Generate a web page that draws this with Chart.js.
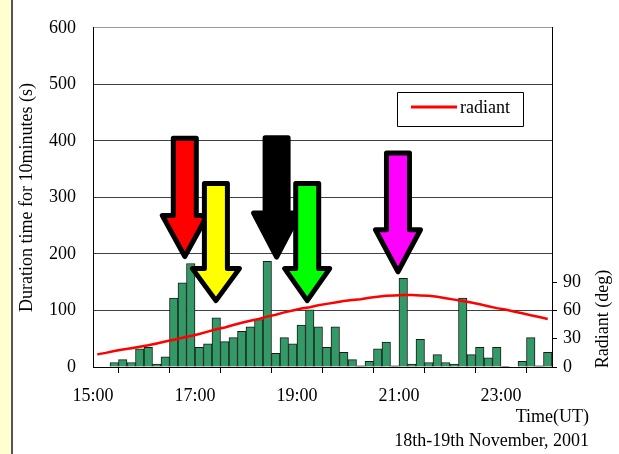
<!DOCTYPE html>
<html>
<head>
<meta charset="utf-8">
<script src="https://cdn.jsdelivr.net/npm/chart.js@4.4.1/dist/chart.umd.min.js"></script>
<style>
  html, body { margin: 0; padding: 0; }
  body {
    width: 619px; height: 454px; overflow: hidden;
    background: linear-gradient(to right, #ffffd2 0, #ffffd2 11px, #555 11px, #555 13px, #fff 13px);
  }
  #chart { display: block; }
</style>
</head>
<body>
<canvas id="chart" width="619" height="454"></canvas>
<script>
// 10-minute slots, 18th-19th November 2001 (UT)
const times = [
  '15:00', '15:10', '15:20', '15:30', '15:40', '15:50',
  '16:00', '16:10', '16:20', '16:30', '16:40', '16:50',
  '17:00', '17:10', '17:20', '17:30', '17:40', '17:50',
  '18:00', '18:10', '18:20', '18:30', '18:40', '18:50',
  '19:00', '19:10', '19:20', '19:30', '19:40', '19:50',
  '20:00', '20:10', '20:20', '20:30', '20:40', '20:50',
  '21:00', '21:10', '21:20', '21:30', '21:40', '21:50',
  '22:00', '22:10', '22:20', '22:30', '22:40', '22:50',
  '23:00', '23:10', '23:20', '23:30', '23:40', '23:50'
];

// duration time for each 10 minutes (s)
const duration = [
  0, 0, 8, 13, 8, 32,
  35, 5, 18, 122, 149, 183,
  35, 41, 87, 45, 52, 63,
  71, 84, 187, 24, 52, 41,
  74, 101, 71, 35, 71, 26,
  13, 2, 10, 32, 44, 2,
  157, 5, 49, 8, 22, 8,
  5, 122, 22, 35, 16, 35,
  1, 0, 10, 52, 2, 26
];

// radiant elevation (deg)
const radiant = [
  13.4, 15, 17, 18.5, 20, 21.5,
  23, 25, 27, 29, 31, 33,
  35, 37.5, 40, 42, 44.5, 47,
  49, 51, 53.5, 55.5, 58, 60,
  62, 63.5, 65.5, 67, 68.5, 70,
  71, 72, 73.5, 74.5, 75.5, 76,
  76.5, 76.5, 76, 75.5, 74.5, 73,
  71.5, 70, 68.5, 66.5, 64.5, 62.5,
  61, 59, 57, 55, 53, 51
];

const leftTicks = [0, 100, 200, 300, 400, 500, 600];
const rightTicks = [0, 30, 60, 90];
const hourLabels = ['15:00', '17:00', '19:00', '21:00', '23:00'];

// marker arrows: hour of the tip, tip / top on the duration axis
const arrows = [
  { color: '#ff0000', hour: 16.80, tip: 191, top: 409, head: 46, half: 25 },
  { color: '#ffff00', hour: 17.41, tip: 113, top: 329, head: 37, half: 26 },
  { color: '#000000', hour: 18.60, tip: 190, top: 410, head: 49, half: 25.5 },
  { color: '#00ff00', hour: 19.20, tip: 113, top: 329, head: 37, half: 25 },
  { color: '#ff00ff', hour: 20.98, tip: 164, top: 383, head: 47, half: 25 }
];

const FONT = '"Liberation Serif", "Times New Roman", serif';

function toHour(t) {
  const [h, m] = t.split(':').map(Number);
  return h + m / 60 + 1 / 12; // middle of the slot
}

const barData = times.map((t, i) => ({ x: toHour(t), y: duration[i] }));
const lineData = times.map((t, i) => ({ x: toHour(t), y: radiant[i] }));

const extras = {
  id: 'extras',
  afterDraw(chart) {
    const ctx = chart.ctx;
    const xs = chart.scales.x, ys = chart.scales.y;
    ctx.save();

    // arrows
    const o = 2.5, sw = 14;
    arrows.forEach(a => {
      const cx = xs.getPixelForValue(a.hour);
      const tipY = ys.getPixelForValue(a.tip);
      const topY = ys.getPixelForValue(a.top);
      const baseY = tipY - a.head;
      ctx.beginPath();
      ctx.moveTo(cx - sw + o, topY + o);
      ctx.lineTo(cx + sw - o, topY + o);
      ctx.lineTo(cx + sw - o, baseY + o);
      ctx.lineTo(cx + a.half - o, baseY + o);
      ctx.lineTo(cx, tipY - o);
      ctx.lineTo(cx - a.half + o, baseY + o);
      ctx.lineTo(cx - sw + o, baseY + o);
      ctx.closePath();
      ctx.fillStyle = a.color;
      ctx.fill();
      ctx.lineWidth = 5;
      ctx.lineJoin = 'round';
      ctx.strokeStyle = '#000';
      ctx.stroke();
    });

    // legend box
    ctx.fillStyle = '#fff';
    ctx.fillRect(397, 92, 126, 34);
    ctx.lineWidth = 1;
    ctx.strokeStyle = '#000';
    ctx.strokeRect(397.5, 92.5, 126, 34);
    ctx.beginPath();
    ctx.moveTo(411, 107);
    ctx.lineTo(457, 107);
    ctx.lineWidth = 3;
    ctx.strokeStyle = '#ff0000';
    ctx.stroke();

    ctx.fillStyle = '#000';
    ctx.font = '18px ' + FONT;
    ctx.textAlign = 'left';
    ctx.textBaseline = 'alphabetic';
    ctx.fillText('radiant', 460, 113);

    // bottom texts
    ctx.textAlign = 'right';
    ctx.fillText('Time(UT)', 589, 422);
    ctx.fillText('18th-19th November, 2001', 589, 446);

    // right axis title
    ctx.translate(603, 319);
    ctx.rotate(-Math.PI / 2);
    ctx.textAlign = 'center';
    ctx.textBaseline = 'middle';
    ctx.fillText('Radiant (deg)', 0, 0);
    ctx.restore();
  }
};

new Chart(document.getElementById('chart'), {
  type: 'bar',
  data: {
    datasets: [
      {
        type: 'line',
        label: 'radiant',
        data: lineData,
        yAxisID: 'y1',
        borderColor: '#ff0000',
        borderWidth: 2.5,
        pointRadius: 0,
        tension: 0,
        order: 0
      },
      {
        label: 'duration',
        data: barData,
        yAxisID: 'y',
        backgroundColor: '#339966',
        borderColor: '#1a1a1a',
        borderWidth: 1,
        barPercentage: 1,
        categoryPercentage: 1,
        order: 1
      }
    ]
  },
  options: {
    responsive: false,
    animation: false,
    devicePixelRatio: 1,
    layout: { padding: { top: 19, left: 0, right: 0, bottom: 0 } },
    plugins: {
      legend: { display: false },
      tooltip: { enabled: false }
    },
    scales: {
      x: {
        type: 'linear',
        min: 15,
        max: 24,
        offset: false,
        afterFit: s => { s.height = 87; },
        ticks: {
          stepSize: 1,
          autoSkip: false,
          maxRotation: 0,
          padding: 12,
          color: '#000',
          font: { family: FONT, size: 18 },
          callback: v => {
            const t = v + ':00';
            return hourLabels.includes(t) ? t : '';
          }
        },
        grid: { drawOnChartArea: false, tickLength: 6, color: '#000' },
        border: { color: '#000', width: 1 }
      },
      y: {
        position: 'left',
        min: 0,
        max: 600,
        afterFit: s => { s.width = 93; },
        afterBuildTicks: s => { s.ticks = leftTicks.map(v => ({ value: v })); },
        ticks: {
          padding: 17,
          color: '#000',
          font: { family: FONT, size: 18 }
        },
        title: {
          display: true,
          text: 'Duration time for 10minutes (s)',
          color: '#000',
          font: { family: FONT, size: 18 },
          padding: { top: 16, bottom: 0 }
        },
        grid: {
          drawTicks: false,
          color: c => (c.tick && c.tick.value === 600 ? '#9a9a9a' : '#404040'),
          lineWidth: 1
        },
        border: { color: '#000', width: 1 }
      },
      y1: {
        position: 'right',
        min: 0,
        max: 360,
        afterFit: s => { s.width = 67; },
        afterBuildTicks: s => { s.ticks = rightTicks.map(v => ({ value: v })); },
        ticks: {
          padding: 6,
          color: '#000',
          font: { family: FONT, size: 18 }
        },
        grid: { drawOnChartArea: false, tickLength: 5, color: '#000' },
        border: { color: '#000', width: 1 }
      }
    }
  },
  plugins: [extras]
});
</script>
</body>
</html>
